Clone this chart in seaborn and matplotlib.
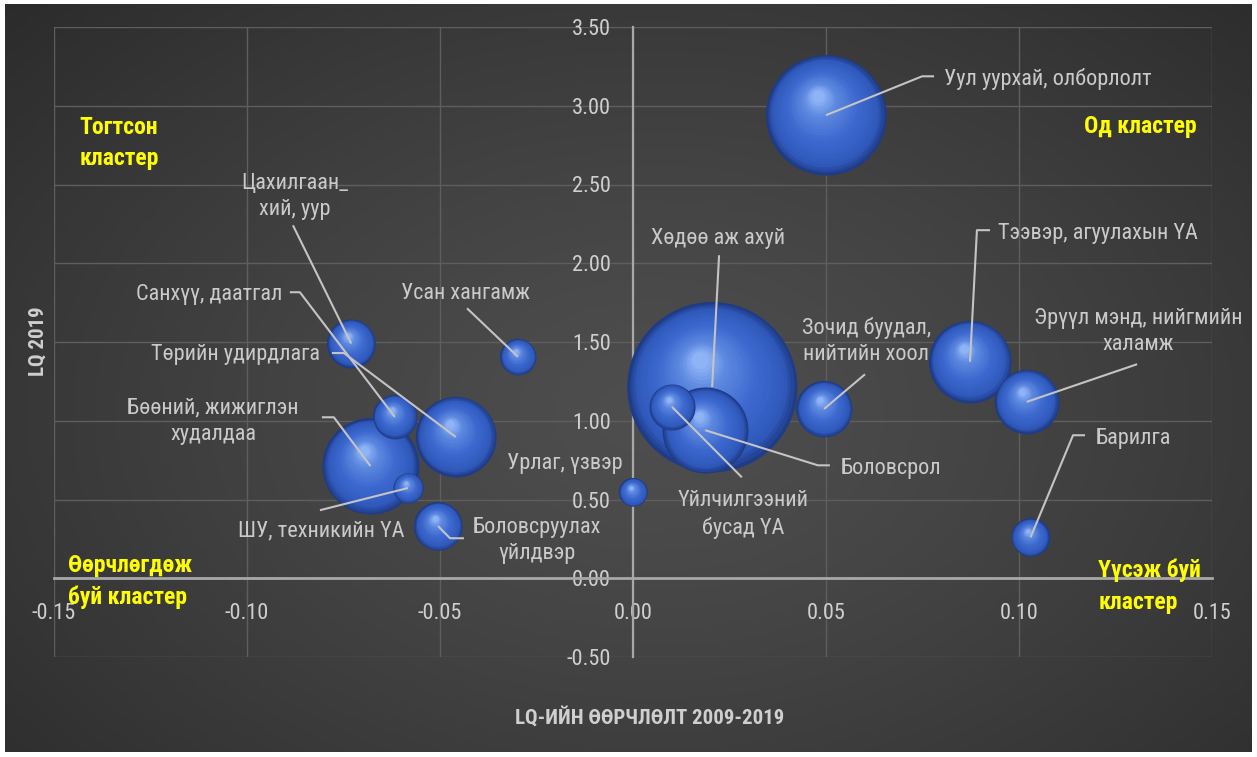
import numpy as np
import pandas as pd
import matplotlib
matplotlib.use("Agg")
import matplotlib.pyplot as plt
import matplotlib.transforms as mtransforms
from matplotlib.colors import to_rgb
import seaborn as sns

# ---- data ----
sectors = [
    "Уул уурхай, олборлолт", "Хөдөө аж ахуй", "Боловсрол",
    "Үйлчилгээний\nбусад ҮА", "Зочид буудал,\nнийтийн хоол",
    "Тээвэр, агуулахын ҮА", "Эрүүл мэнд, нийгмийн\nхаламж", "Барилга",
    "Урлаг, үзвэр", "Цахилгаан_\nхий, уур", "Усан хангамж", "Санхүү, даатгал",
    "Төрийн удирдлага", "Бөөний, жижиглэн\nхудалдаа", "ШУ, техникийн ҮА",
    "Боловсруулах\nүйлдвэр",
]
lq_change = [0.050, 0.0205, 0.0187, 0.0101, 0.0495, 0.0873, 0.102, 0.103,
             0.000, -0.073, -0.0298, -0.0617, -0.0459, -0.068, -0.0583, -0.0505]
lq_2019 = [2.94, 1.215, 0.94, 1.088, 1.075, 1.374, 1.12, 0.26,
           0.547, 1.49, 1.406, 1.024, 0.897, 0.712, 0.573, 0.331]
bubble_size = [36.0, 72.0, 18.5, 5.3, 7.8, 16.8, 10.2, 3.6,
               2.0, 5.8, 3.2, 4.8, 16.0, 23.0, 2.3, 5.8]

x_ticks = [-0.15, -0.10, -0.05, 0.00, 0.05, 0.10, 0.15]
y_ticks = [-0.5, 0.0, 0.5, 1.0, 1.5, 2.0, 2.5, 3.0, 3.5]

# ---- label layout: text position, alignment, leader path (bubble -> ... ) ----
label_pos = [
    (0.0806, 3.168, "left"), (0.0220, 2.159, "center"), (0.0536, 0.698, "left"),
    (0.0285, 0.405, "center"), (0.0604, 1.505, "center"), (0.0946, 2.19, "left"),
    (0.1308, 1.568, "center"), (0.1197, 0.889, "left"), (-0.0028, 0.730, "right"),
    (-0.0876, 2.425, "center"), (-0.0435, 1.81, "center"), (-0.0909, 1.803, "right"),
    (-0.0811, 1.422, "right"), (-0.1088, 0.997, "center"), (-0.0591, 0.298, "right"),
    (-0.0249, 0.240, "center"),
]
leaders = [
    [(0.0749, 3.187), (0.0780, 3.187)], [(0.0223, 2.051)],
    [(0.0479, 0.717), (0.0510, 0.717)], [(0.0282, 0.641)], [(0.0601, 1.295)],
    [(0.0891, 2.21), (0.0925, 2.21)], [(0.1306, 1.359)],
    [(0.1140, 0.908), (0.1171, 0.908)], [], [(-0.0881, 2.241)], [(-0.0430, 1.714)],
    [(-0.0863, 1.816), (-0.0889, 1.816)], [(-0.0749, 1.43), (-0.0780, 1.43)],
    [(-0.0775, 1.022), (-0.0806, 1.022)], [(-0.0811, 0.432)],
    [(-0.0474, 0.254), (-0.0438, 0.254)],
]

df = pd.DataFrame({"sector": sectors, "change": lq_change,
                   "lq": lq_2019, "size": bubble_size})

sns.set_theme(style="dark")
plt.rcParams['font.family'] = ['Roboto Condensed', 'DejaVu Sans']
plt.rcParams['font.stretch'] = 'condensed'

W, H = 1257, 757
fig = plt.figure(figsize=(W / 100, H / 100), dpi=100, facecolor="white")

# dark radial background
bg = fig.add_axes([5 / W, 5 / H, 1247 / W, 748 / H], zorder=0)
gx, gy = np.meshgrid(np.linspace(0, 1, 400), np.linspace(0, 1, 240))
dist = np.sqrt(((gx - 0.52) / 0.75) ** 2 + ((gy - 0.45) / 0.85) ** 2)
dist = np.clip(dist, 0, 1)
c_in, c_out = np.array(to_rgb("#4e4e4e")), np.array(to_rgb("#292929"))
img = c_in + (c_out - c_in) * dist[..., None] ** 1.3
bg.imshow(img, aspect="auto", extent=[0, 1, 0, 1], origin="lower")
bg.set_axis_off()

ax = fig.add_axes([54 / W, 100 / H, 1158 / W, 630 / H], zorder=1)
ax.set_facecolor("none")
ax.set_xlim(-0.15, 0.15)
ax.set_ylim(-0.5, 3.5)

vmax = max(bubble_size)
s_scale = (2 * 0.72) ** 2 * 100  # points^2 per size unit
sns.scatterplot(data=df, x="change", y="lq", size="size",
                sizes=(0, s_scale * vmax), size_norm=(0, vmax),
                color="#1d3a86", edgecolor="none", legend=False,
                ax=ax, zorder=2)
sizes = ax.collections[0].get_sizes()

# layered sphere shading, larger bubbles drawn first
stops_t = [0.0, 0.12, 0.45, 0.8, 1.0]
stops_c = [to_rgb(c) for c in ["#1f3c88", "#3059bb", "#3d69cf", "#5f8ae0", "#8fb4f6"]]
layers = np.linspace(0, 1, 28)
order = np.argsort(bubble_size)[::-1]
for rank, i in enumerate(order):
    s = sizes[i]
    r = np.sqrt(s) / 2
    for t in layers:
        f = 1 - 0.9 * t
        col = [np.interp(t, stops_t, [c[k] for c in stops_c]) for k in range(3)]
        dx, dy = -0.14 * t * r, 0.32 * t * r
        tr = ax.transData + mtransforms.ScaledTranslation(dx / 72, dy / 72, fig.dpi_scale_trans)
        ax.scatter([lq_change[i]], [lq_2019[i]], s=s * f * f, color=col,
                   linewidths=0, transform=tr, zorder=3 + rank + 0.5 * t)

# grid and axes crossing at zero
ax.set_xticks(x_ticks)
ax.set_yticks(y_ticks)
ax.grid(True, color="#5e5e5e", lw=1.0)
ax.set_axisbelow(True)
for side in ["top", "right"]:
    ax.spines[side].set_visible(False)
ax.spines["left"].set_position(("data", 0))
ax.spines["bottom"].set_position(("data", 0))
ax.spines["left"].set_color("#a8a8a8")
ax.spines["bottom"].set_color("#a8a8a8")
ax.spines["left"].set_linewidth(1.6)
ax.spines["bottom"].set_linewidth(2.0)
ax.spines["left"].set_zorder(1.5)
ax.spines["bottom"].set_zorder(1.5)
ax.set_xticklabels([f"{v:.2f}" for v in x_ticks])
ax.set_yticklabels([f"{v:.2f}" for v in y_ticks])
ax.tick_params(axis="x", length=0, pad=18, labelsize=16, colors="#cfcfcf")
ax.tick_params(axis="y", length=0, pad=16, labelsize=16, colors="#cfcfcf")
ax.set_xlabel("")
ax.set_ylabel("")

# leader lines and data labels
for i in range(len(sectors)):
    if leaders[i]:
        pts = [(lq_change[i], lq_2019[i])] + leaders[i]
        ax.plot([p[0] for p in pts], [p[1] for p in pts], color="#c4c4c4",
                lw=1.5, zorder=40, solid_capstyle="butt")
    tx, ty, ha = label_pos[i]
    ax.text(tx, ty, sectors[i], ha=ha, va="center", fontsize=16,
            color="#cacaca", linespacing=1.3, zorder=41)

# quadrant captions
quad = dict(color="#ffff00", fontsize=17, fontweight="bold", zorder=42, linespacing=1.45)
ax.text(-0.1433, 2.765, "Тогтсон\nкластер", ha="left", va="center", **quad)
ax.text(0.1461, 2.870, "Од кластер", ha="right", va="center", **quad)
ax.text(-0.1464, -0.019, "Өөрчлөгдөж\nбуй кластер", ha="left", va="center", **quad)
ax.text(0.1205, -0.051, "Үүсэж буй\nкластер", ha="left", va="center", **quad)

# axis titles
fig.text(38 / W, 1 - 341 / H, "LQ 2019", rotation=90, ha="center", va="center",
         fontsize=15, fontweight="bold", color="#cfcfcf")
fig.text(650 / W, 1 - 717 / H, "LQ-ИЙН ӨӨРЧЛӨЛТ 2009-2019", ha="center", va="center",
         fontsize=15, fontweight="bold", color="#cfcfcf")

fig.savefig("out.png", dpi=100, facecolor="white")
